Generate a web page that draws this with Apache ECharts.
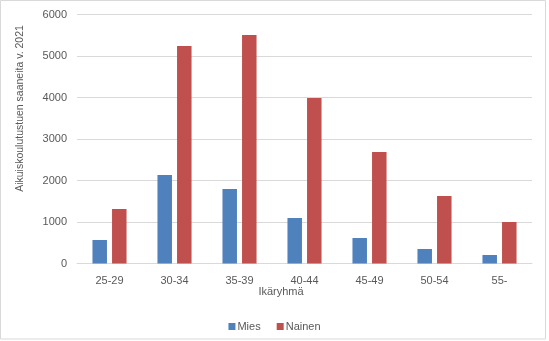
<!DOCTYPE html>
<html>
<head>
<meta charset="utf-8">
<script src="https://cdn.jsdelivr.net/npm/echarts@6/dist/echarts.min.js"></script>
<style>
html, body { margin: 0; padding: 0; background: #fff; }
#chart { width: 549px; height: 341px; }
</style>
</head>
<body>
<div id="chart"></div>
<script>
// Age groups and recipients of adult education allowance, 2021
const categories = ['25-29', '30-34', '35-39', '40-44', '45-49', '50-54', '55-'];
const mies = [566, 2133, 1795, 1096, 614, 349, 205];
const nainen = [1313, 5241, 5506, 3988, 2687, 1627, 1000];
const yTicks = [0, 1000, 2000, 3000, 4000, 5000, 6000];

const FONT = 'Liberation Sans';
const TXT = '#595959';

const chart = echarts.init(document.getElementById('chart'));
chart.setOption({
  animation: false,
  textStyle: { fontFamily: FONT },
  grid: { left: 77, right: 17, top: 14.5, bottom: 77.5, containLabel: false },
  legend: {
    data: ['Mies', 'Nainen'],
    bottom: 4,
    left: 'center',
    itemWidth: 7,
    itemHeight: 7,
    itemGap: 16,
    icon: 'rect',
    textStyle: { color: TXT, fontSize: 11, fontFamily: FONT, padding: [0, 0, 0, -3] }
  },
  xAxis: {
    type: 'category',
    data: categories,
    axisLine: { show: true, lineStyle: { color: '#d9d9d9' } },
    axisTick: { show: false },
    axisLabel: { color: TXT, fontSize: 11, margin: 12 }
  },
  yAxis: {
    type: 'value',
    min: yTicks[0],
    max: yTicks[yTicks.length - 1],
    interval: 1000,
    axisLine: { show: false },
    axisTick: { show: false },
    axisLabel: { color: TXT, fontSize: 11, margin: 10, formatter: (v) => String(v) },
    splitLine: { lineStyle: { color: '#d9d9d9' } }
  },
  series: [
    { name: 'Mies', type: 'bar', data: mies, barWidth: 14.5, barGap: '35%', itemStyle: { color: '#4F81BD' } },
    { name: 'Nainen', type: 'bar', data: nainen, barWidth: 14.5, itemStyle: { color: '#C0504D' } }
  ],
  graphic: [
    { type: 'rect', shape: { x: 0.5, y: 0.5, width: 545, height: 338.5 }, style: { fill: 'none', stroke: '#d9d9d9', lineWidth: 1 }, silent: true },
    { type: 'text', x: 281, y: 292, style: { text: 'Ikäryhmä', fill: TXT, fontSize: 11, fontFamily: FONT, align: 'center', verticalAlign: 'middle' } },
    { type: 'text', x: 20, y: 108.5, rotation: Math.PI / 2, style: { text: 'Aikuiskoulutustuen saaneita v. 2021', fill: TXT, fontSize: 10.5, fontFamily: FONT, align: 'center', verticalAlign: 'middle' } }
  ]
});
</script>
</body>
</html>
